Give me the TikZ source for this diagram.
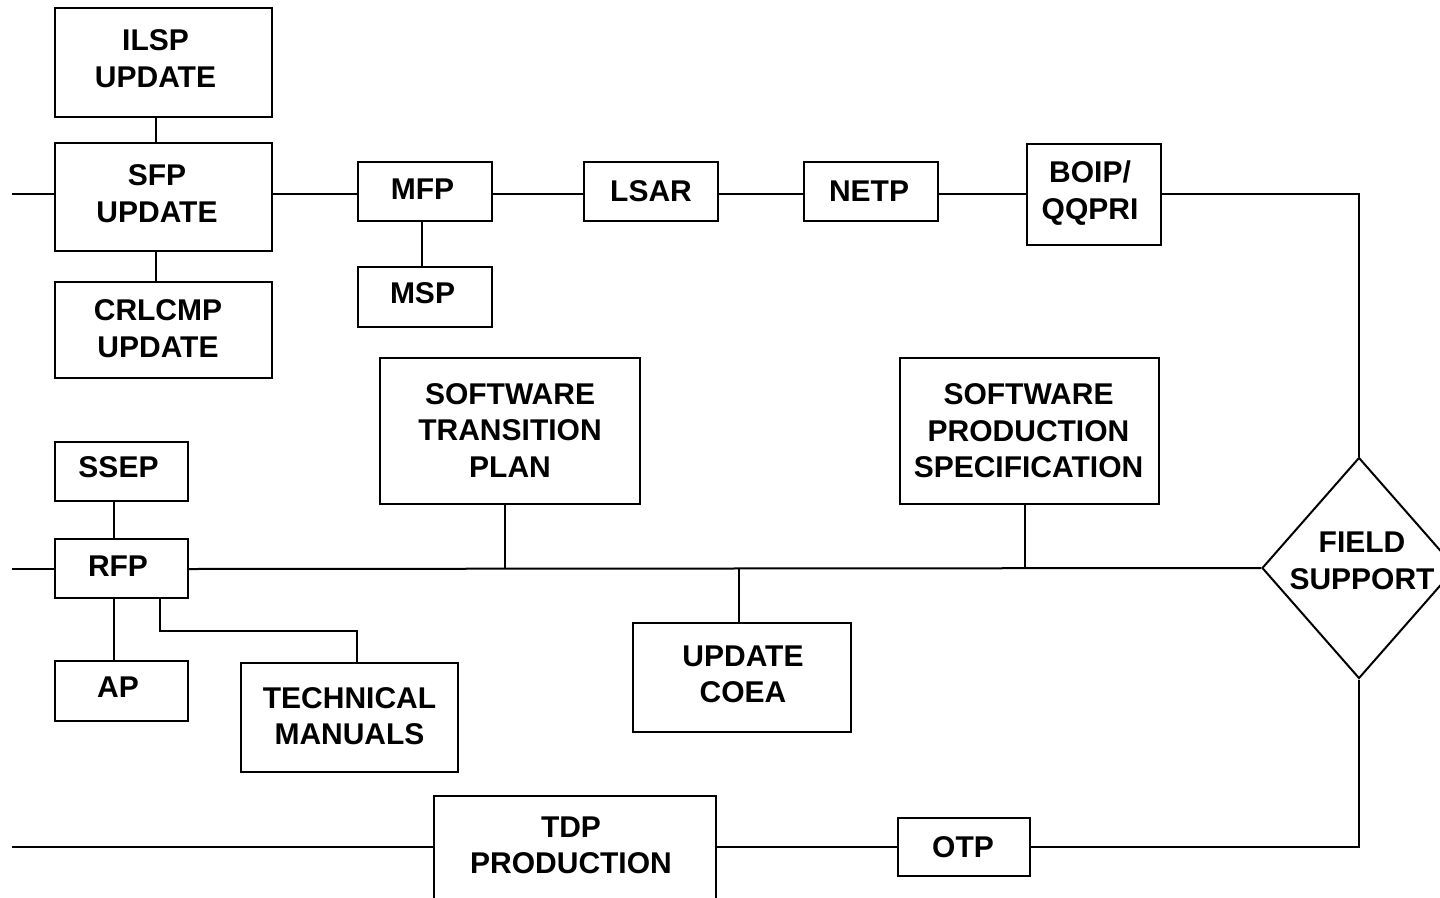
\documentclass[tikz,border=0pt]{standalone}
\usepackage{fontspec}
\setmainfont{Liberation Sans}
\usetikzlibrary{shapes.geometric}
\begin{document}
\begin{tikzpicture}[x=1pt,y=-1pt,
  every node/.style={font=\bfseries\fontsize{30}{36.5}\selectfont, align=center},
  box/.style={draw, line width=2.2pt, rectangle, inner sep=0pt},
  % caption of a box, nudged by (#1,#2) from the box centre
  txt/.style n args={3}{label={[xshift=#1pt,yshift=#2pt]center:#3}},
  link/.style={line width=2pt}]
\clip (0,0) rectangle (1440,897);
\fill[white] (0,0) rectangle (1440,897);

% rows of the three main flows and their open left ends
\coordinate (row1) at (0,194);
\coordinate (row2) at (0,569);
\coordinate (row3) at (0,847);
\coordinate (in1) at (12,194);
\coordinate (in2) at (12,569);
\coordinate (in3) at (12,847);

% upper flow
\node[box, minimum width=217pt, minimum height=109pt, txt={-8}{4}{ILSP\\UPDATE}]     (ilsp) at (163.5,62.5) {};
\node[box, minimum width=217pt, minimum height=108pt, txt={-6.5}{3.5}{SFP\\UPDATE}]  (sfp)  at (163.5,197) {};
\node[box, minimum width=217pt, minimum height=96pt,  txt={-5.5}{1.5}{CRLCMP\\UPDATE}] (crl) at (163.5,330) {};
\node[box, minimum width=134pt, minimum height=59pt,  txt={-2.5}{2}{MFP}]   (mfp)  at (425,191.5) {};
\node[box, minimum width=134pt, minimum height=60pt,  txt={-2.5}{4}{MSP}]   (msp)  at (425,297) {};
\node[box, minimum width=134pt, minimum height=59pt,  txt={0}{0}{LSAR}]     (lsar) at (651,191.5) {};
\node[box, minimum width=134pt, minimum height=59pt,  txt={-2}{0}{NETP}]    (netp) at (871,191.5) {};
\node[box, minimum width=134pt, minimum height=101pt, txt={-4}{1.5}{BOIP/\\QQPRI}] (boip) at (1094,194.5) {};

% middle flow
\node[box, minimum width=260pt, minimum height=146pt, txt={0}{0.5}{SOFTWARE\\TRANSITION\\PLAN}] (stp) at (510,431) {};
\node[box, minimum width=259pt, minimum height=146pt, txt={-1}{0}{SOFTWARE\\PRODUCTION\\SPECIFICATION}] (sps) at (1029.5,431) {};
\node[box, minimum width=133pt, minimum height=59pt,  txt={-3}{4}{SSEP}]   (ssep) at (121.5,471.5) {};
\node[box, minimum width=133pt, minimum height=59pt,  txt={-3.5}{2}{RFP}]  (rfp)  at (121.5,568.5) {};
\node[box, minimum width=133pt, minimum height=60pt,  txt={-3.5}{4}{AP}]   (ap)   at (121.5,691) {};
\node[box, minimum width=217pt, minimum height=109pt, txt={0}{1.5}{TECHNICAL\\MANUALS}] (tm) at (349.5,717.5) {};
\node[box, minimum width=218pt, minimum height=109pt, txt={1}{3}{UPDATE\\COEA}] (coea) at (742,677.5) {};

% decision
\node[draw, diamond, line width=2pt, minimum width=194pt, minimum height=221pt, inner sep=0pt,
  txt={3}{7}{FIELD\\SUPPORT}] (field) at (1359,568) {};

% lower flow
\node[box, minimum width=282pt, minimum height=104pt, txt={-4}{2.5}{TDP\\PRODUCTION}] (tdp) at (575,848) {};
\node[box, minimum width=132pt, minimum height=58pt,  txt={-1}{0}{OTP}] (otp) at (964,847) {};

% upper connectors
\draw[link] (in1) -- (sfp.west |- row1);
\draw[link] (sfp.east |- row1) -- (mfp.west |- row1);
\draw[link] (mfp.east |- row1) -- (lsar.west |- row1);
\draw[link] (lsar.east |- row1) -- (netp.west |- row1);
\draw[link] (netp.east |- row1) -- (boip.west |- row1);
\draw[link] (boip.east |- row1) -| (field.north);
\draw[link] ([xshift=-7.5pt]ilsp.south) -- ([xshift=-7.5pt]sfp.north);
\draw[link] ([xshift=-7.5pt]sfp.south) -- ([xshift=-7.5pt]crl.north);
\draw[link] ([xshift=-3pt]mfp.south) -- ([xshift=-3pt]msp.north);

% middle connectors
\draw[link] (in2) -- (rfp.west |- row2);
\draw[link] (rfp.east |- row2) -- (field.west);
\draw[link] ([xshift=-5pt]stp.south) -- ([xshift=-5pt]stp.south |- row2);
\draw[link] ([xshift=-4.5pt]sps.south) -- ([xshift=-4.5pt]sps.south |- row2);
\draw[link] ([xshift=-3pt]coea.north) -- ([xshift=-3pt]coea.north |- row2);
\draw[link] ([xshift=-7.5pt]ssep.south) -- ([xshift=-7.5pt]rfp.north);
\draw[link] ([xshift=-7.5pt]rfp.south) -- ([xshift=-7.5pt]ap.north);
\draw[link] ([xshift=38.5pt]rfp.south) -- ++(0,32) -| ([xshift=7.5pt]tm.north);

% lower connectors
\draw[link] (in3) -- (tdp.west |- row3);
\draw[link] (tdp.east |- row3) -- (otp.west);
\draw[link] (otp.east) -| (field.south);
\end{tikzpicture}
\end{document}
